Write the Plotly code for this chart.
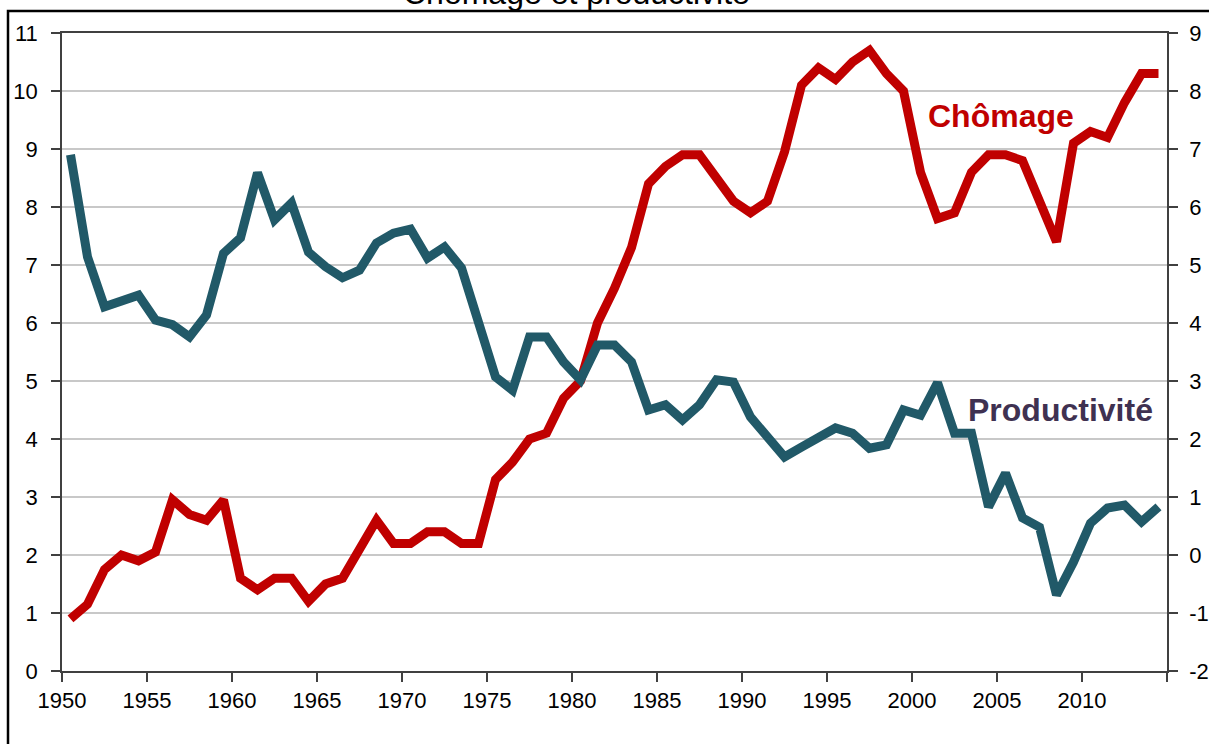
import plotly.graph_objects as go

years = list(range(1950, 2015))

chomage = [0.9, 1.15, 1.75, 2.0, 1.9, 2.05, 2.95, 2.7, 2.6, 2.95,
           1.6, 1.4, 1.6, 1.6, 1.2, 1.5, 1.6, 2.1, 2.6, 2.2,
           2.2, 2.4, 2.4, 2.2, 2.2, 3.3, 3.6, 4.0, 4.1, 4.7,
           5.0, 6.0, 6.6, 7.3, 8.4, 8.7, 8.9, 8.9, 8.5, 8.1,
           7.9, 8.1, 8.95, 10.1, 10.4, 10.2, 10.5, 10.7, 10.3, 10.0,
           8.6, 7.8, 7.9, 8.6, 8.9, 8.9, 8.8, 8.1, 7.4, 9.1,
           9.3, 9.2, 9.8, 10.3, 10.3]

productivite = [6.9, 5.14, 4.28, 4.4, 4.48, 4.05, 3.97, 3.76, 4.14, 5.2,
                5.47, 6.59, 5.78, 6.07, 5.22, 4.97, 4.78, 4.91, 5.38, 5.55,
                5.62, 5.12, 5.31, 4.95, 4.05, 3.07, 2.84, 3.76, 3.76, 3.33,
                3.02, 3.62, 3.62, 3.33, 2.5, 2.59, 2.33, 2.59, 3.02, 2.98,
                2.38, 2.03, 1.69, 1.86, 2.02, 2.19, 2.1, 1.84, 1.9, 2.5,
                2.41, 2.97, 2.1, 2.1, 0.83, 1.41, 0.64, 0.48, -0.69, -0.12,
                0.55, 0.81, 0.86, 0.57, 0.83]

x_tick_vals = [1949.5 + 5 * k for k in range(14)]
x_tick_text = [str(1950 + 5 * k) for k in range(13)] + [""]

y_left_ticks = list(range(0, 12))
y_right_ticks = list(range(-2, 10))
y_right_text = [str(v) for v in y_right_ticks]  # plain hyphen minus, as in the original

RED = "#C00000"
TEAL = "#215968"
FONT = "Liberation Sans, Arial, sans-serif"

fig = go.Figure()
fig.add_trace(go.Scatter(x=years, y=chomage, mode="lines", name="Chômage",
                         line=dict(color=RED, width=9), yaxis="y"))
fig.add_trace(go.Scatter(x=years, y=productivite, mode="lines", name="Productivité",
                         line=dict(color=TEAL, width=9), yaxis="y2"))

L, R, T, B = 62, 42, 33, 73
W, H = 1209, 744
pw, ph = W - L - R, H - T - B

def px(xp):
    return (xp - L) / pw

def py(yp):
    return (H - B - yp) / ph

axis_common = dict(ticks="outside", ticklen=9, tickwidth=1.5, tickcolor="#404040",
                   showline=True, linecolor="#404040", linewidth=1.5,
                   zeroline=False, automargin=False,
                   tickfont=dict(size=22, family=FONT, color="black"))

fig.update_layout(
    width=W, height=H,
    margin=dict(l=L, r=R, t=T, b=B, pad=0, autoexpand=False),
    paper_bgcolor="white", plot_bgcolor="white",
    showlegend=False,
    font=dict(family=FONT, size=22, color="black"),
    xaxis=dict(range=[1949.5, 2014.5], tickmode="array", tickvals=x_tick_vals,
               ticktext=x_tick_text, mirror=True, showgrid=False,
               ticklabelstandoff=0, **axis_common),
    yaxis=dict(range=[0, 11], tickmode="array", tickvals=y_left_ticks,
               showgrid=True, gridcolor="#C8C8C8", gridwidth=1.5,
               ticklabelstandoff=9, **axis_common),
    yaxis2=dict(range=[-2, 9], tickmode="array", tickvals=y_right_ticks,
                ticktext=y_right_text, overlaying="y", side="right",
                showgrid=False, ticklabelstandoff=7, **axis_common),
    annotations=[
        dict(text="Chômage et productivité", xref="paper", yref="paper",
             x=px(576), y=py(13), xanchor="center", yanchor="bottom",
             showarrow=False, font=dict(size=32, color="black", family=FONT)),
        dict(text="<b>Chômage</b>", xref="paper", yref="paper",
             x=px(1001), y=py(116), xanchor="center", yanchor="middle",
             showarrow=False, font=dict(size=32, color=RED, family=FONT)),
        dict(text="<b>Productivité</b>", xref="paper", yref="paper",
             x=px(1060), y=py(410), xanchor="center", yanchor="middle",
             showarrow=False, font=dict(size=32, color="#3F3151", family=FONT)),
    ],
    shapes=[
        dict(type="rect", xref="paper", yref="paper",
             x0=px(8), x1=px(1230), y0=py(760), y1=py(11),
             line=dict(color="black", width=2.5), fillcolor="rgba(0,0,0,0)",
             layer="below"),
    ],
)

fig.write_html("out.html", config={"displayModeBar": False},
               post_script="document.body.style.margin='0';document.body.style.overflow='hidden';")
